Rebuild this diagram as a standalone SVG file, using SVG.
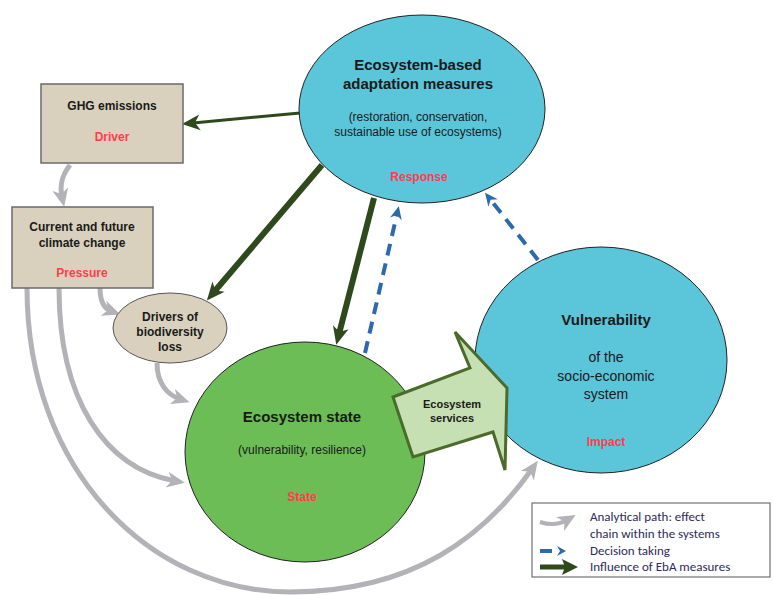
<svg xmlns="http://www.w3.org/2000/svg" width="774" height="595" viewBox="0 0 774 595">
<defs>
<style>
.b{font-family:"Liberation Sans",Arial,sans-serif;font-weight:bold;fill:#1a1a1a;text-anchor:middle}
.n{font-family:"Liberation Sans",Arial,sans-serif;fill:#1a1a1a;text-anchor:middle}
.r{font-family:"Liberation Sans",Arial,sans-serif;font-weight:bold;fill:#ff3c4c;text-anchor:middle;font-size:12px}
.lg{font-family:"Carlito","Liberation Sans",Arial,sans-serif;fill:#2e2a5c;font-size:13px}
.gray{fill:none;stroke:#b2b2b7;stroke-width:5;marker-end:url(#mg)}
.dg{fill:none;stroke:#2e4a1d;marker-end:url(#md)}
.bl{fill:none;stroke:#2a6aad;stroke-width:4;stroke-dasharray:12 8;marker-end:url(#mb)}
.box{fill:#d9d1bd;stroke:#6a6a6a;stroke-width:1.5}
</style>
<marker id="mg" markerUnits="userSpaceOnUse" markerWidth="20" markerHeight="20" viewBox="0 0 20 20" refX="9" refY="10" orient="auto"><path d="M1,2 L19,10 L1,18 L6,10 z" fill="#b2b2b7"/></marker>
<marker id="md" markerUnits="userSpaceOnUse" markerWidth="20" markerHeight="20" viewBox="0 0 20 20" refX="8" refY="10" orient="auto"><path d="M1,2 L19,10 L1,18 L6,10 z" fill="#2e4a1d"/></marker>
<marker id="mb" markerUnits="userSpaceOnUse" markerWidth="16" markerHeight="16" viewBox="0 0 16 16" refX="6" refY="8" orient="auto"><path d="M1,2 L14,8 L1,14 L5,8 z" fill="#2a6aad"/></marker>
</defs>
<rect width="774" height="595" fill="#ffffff"/>

<g id="connectors">
<path class="gray" d="M 70 165 C 60 178 60 188 62 197"/>
<path class="gray" d="M 100 288 C 100 300 103 308 111 311"/>
<path class="gray" d="M 157 363 C 157 384 168 395 180 399"/>
<path class="gray" d="M 59 288 C 59 400 105 468 175 481"/>
<path class="gray" d="M 27 288 C 27 470 150 592 290 592 C 415 592 485 535 532 469"/>
<path class="dg" stroke-width="3" d="M 300 113 L 193 123"/>
<path class="dg" stroke-width="6" d="M 322 165 L 214 292"/>
<path class="dg" stroke-width="6" d="M 374 198 L 339 334"/>
<path class="bl" d="M 365 353 L 397 214"/>
<path class="bl" d="M 538 260 L 490 199"/>
</g>

<g id="ghg">
<rect class="box" x="41" y="84" width="142" height="79"/>
<text class="b" x="112" y="110" font-size="12">GHG emissions</text>
<text class="r" x="112" y="141">Driver</text>
</g>

<g id="climate">
<rect class="box" x="12" y="207" width="141" height="81"/>
<text class="b" x="82" y="231" font-size="12">Current and future</text>
<text class="b" x="82" y="247" font-size="12">climate change</text>
<text class="r" x="82" y="277">Pressure</text>
</g>

<g id="drivers">
<ellipse cx="170" cy="328" rx="57" ry="35" fill="#d9d1bd" stroke="#555" stroke-width="1"/>
<text class="b" x="170" y="321" font-size="12">Drivers of</text>
<text class="b" x="170" y="336" font-size="12">biodiversity</text>
<text class="b" x="170" y="351" font-size="12">loss</text>
</g>

<g id="response">
<ellipse cx="422" cy="109" rx="123" ry="94" fill="#5bc5da" stroke="#222" stroke-width="1"/>
<text class="b" x="418" y="70" font-size="15">Ecosystem-based</text>
<text class="b" x="418" y="89" font-size="15">adaptation measures</text>
<text class="n" x="418" y="121" font-size="12">(restoration, conservation,</text>
<text class="n" x="418" y="136" font-size="12">sustainable use of ecosystems)</text>
<text class="r" x="419" y="181">Response</text>
</g>

<g id="state">
<ellipse cx="305" cy="452" rx="120" ry="110" fill="#6cbd56" stroke="#222" stroke-width="1"/>
<text class="b" x="302" y="422" font-size="15">Ecosystem state</text>
<text class="n" x="302" y="454" font-size="12">(vulnerability, resilience)</text>
<text class="r" x="302" y="501">State</text>
</g>

<g id="impact">
<ellipse cx="601" cy="360" rx="126" ry="113" fill="#5bc5da" stroke="#222" stroke-width="1"/>
<text class="b" x="606" y="325" font-size="15">Vulnerability</text>
<text class="n" x="606" y="362" font-size="14">of the</text>
<text class="n" x="606" y="381" font-size="14">socio-economic</text>
<text class="n" x="606" y="399" font-size="14">system</text>
<text class="r" x="606" y="446">Impact</text>
</g>

<g id="services">
<polygon points="393,397 470,368 455,332 507,388 505,470 493,432 413,457" fill="#c6e0b4" stroke="#4b6b2b" stroke-width="3" stroke-linejoin="miter"/>
<text class="b" x="452" y="408" font-size="11">Ecosystem</text>
<text class="b" x="452" y="422" font-size="11">services</text>
</g>

<g id="legend">
<rect x="532" y="503" width="238" height="74" fill="#ffffff" stroke="#555" stroke-width="1"/>
<path d="M 540 522 Q 555 527 567 520" fill="none" stroke="#b2b2b7" stroke-width="4" marker-end="url(#mg)"/>
<text class="lg" x="590" y="521">Analytical path: effect</text>
<text class="lg" x="590" y="538">chain within the systems</text>
<line x1="540" y1="551" x2="552" y2="551" stroke="#2a6aad" stroke-width="4"/>
<path d="M557,546 L566,551 L557,556 L560,551 z" fill="#2a6aad"/>
<text class="lg" x="590" y="555">Decision taking</text>
<line x1="540" y1="567" x2="566" y2="567" stroke="#2e4a1d" stroke-width="5"/>
<path d="M562,559 L578,567 L562,575 L565,567 z" fill="#2e4a1d"/>
<text class="lg" x="590" y="571">Influence of EbA measures</text>
</g>
</svg>
